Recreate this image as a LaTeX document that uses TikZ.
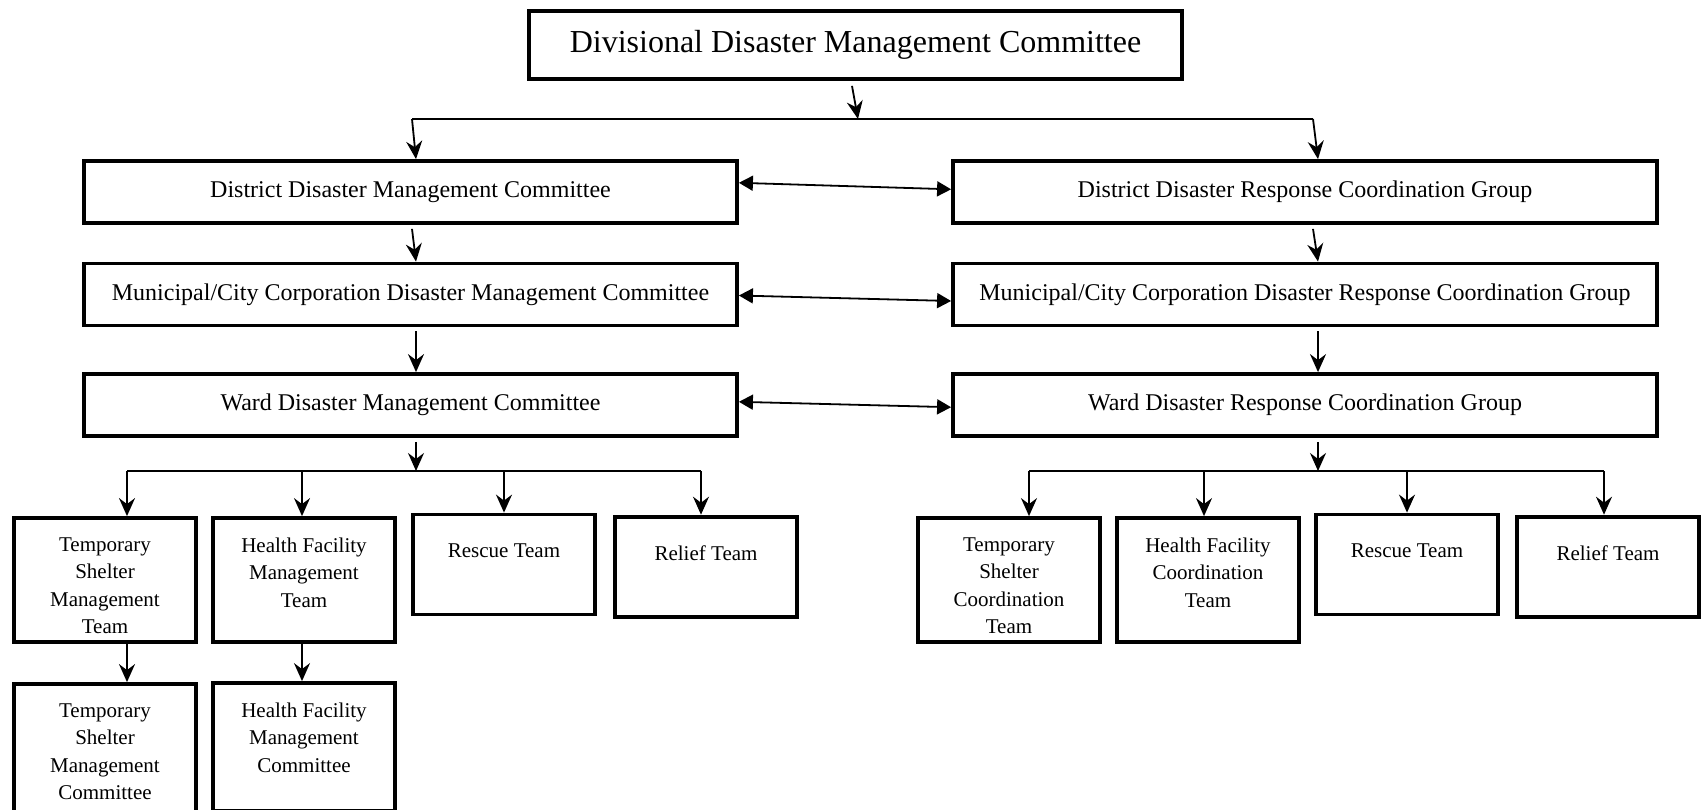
\documentclass[tikz,border=0pt]{standalone}
\usepackage{fontspec}
\setmainfont{Liberation Serif}
\usetikzlibrary{arrows.meta, positioning}

\begin{document}
\begin{tikzpicture}[
  x=0.5pt, y=-0.5pt,
  orgbox/.style={draw, line width=1.9pt, inner sep=0pt},
  headbox/.style={orgbox, minimum width=326.5pt, minimum height=34pt,
    font=\fontsize{16}{19}\selectfont},
  levelbox/.style={orgbox, minimum height=31pt, font=\fontsize{12}{14}\selectfont},
  teambox/.style={orgbox, minimum width=91pt},
  teamtext/.style={anchor=north, align=center, inner sep=0pt,
    font=\fontsize{10.5}{13.75}\selectfont},
  link/.style={line width=0.9pt},
  down/.style={link, -{Stealth[length=9pt, width=8pt, inset=3pt]}},
  both/.style={link, {Triangle[length=7pt, width=7.5pt]}-{Triangle[length=7pt, width=7.5pt]}},
]
  \path[use as bounding box, clip] (0,0) rectangle (1702,809);

  % Division level
  \node[headbox] (div) at (855.5,45) {Divisional Disaster Management Committee};

  % Committees (left) and coordination groups (right)
  \node[levelbox, minimum width=326.5pt] (ddmc)  at (410.5,192)   {District Disaster Management Committee};
  \node[levelbox, minimum width=352pt]   (ddrcg) at (1305,192)    {District Disaster Response Coordination Group};
  \node[levelbox, minimum width=326.5pt] (mdmc)  at (410.5,294.5) {Municipal/City Corporation Disaster Management Committee};
  \node[levelbox, minimum width=352pt]   (mdrcg) at (1305,294.5)  {Municipal/City Corporation Disaster Response Coordination Group};
  \node[levelbox, minimum width=326.5pt] (wdmc)  at (410.5,405)   {Ward Disaster Management Committee};
  \node[levelbox, minimum width=352pt]   (wdrcg) at (1305,405)    {Ward Disaster Response Coordination Group};

  % Teams under the ward committee
  \node[teambox, minimum height=62pt] (lts)  at (105,580)   {};
  \node[teambox, minimum height=62pt] (lhf)  at (304,580)   {};
  \node[teambox, minimum height=50pt] (lrs)  at (504,564.5) {};
  \node[teambox, minimum height=50pt] (lrl)  at (706,566.6) {};
  \node[teambox, minimum height=64pt] (ltsc) at (105,748)   {};
  \node[teambox, minimum height=64pt] (lhfc) at (304,747)   {};
  \node[teamtext, below=10.5pt of lts.north]  (ltst)  {Temporary\\Shelter\\Management\\Team};
  \node[teamtext, below=10.5pt of lhf.north]  (lhft)  {Health Facility\\Management\\Team};
  \node[teamtext, below=15.5pt of lrs.north]  (lrst)  {Rescue Team};
  \node[teamtext, below=15.5pt of lrl.north]  (lrlt)  {Relief Team};
  \node[teamtext, below=10.5pt of ltsc.north] (ltsct) {Temporary\\Shelter\\Management\\Committee};
  \node[teamtext, below=10.5pt of lhfc.north] (lhfct) {Health Facility\\Management\\Committee};

  % Teams under the ward coordination group
  \node[teambox, minimum height=62pt] (rts) at (1009,580)   {};
  \node[teambox, minimum height=62pt] (rhf) at (1208,580)   {};
  \node[teambox, minimum height=50pt] (rrs) at (1407,564.5) {};
  \node[teambox, minimum height=50pt] (rrl) at (1608,566.6) {};
  \node[teamtext, below=10.5pt of rts.north]  (rtst) {Temporary\\Shelter\\Coordination\\Team};
  \node[teamtext, below=10.5pt of rhf.north]  (rhft) {Health Facility\\Coordination\\Team};
  \node[teamtext, below=15.5pt of rrs.north]  (rrst) {Rescue Team};
  \node[teamtext, below=15.5pt of rrl.north]  (rrlt) {Relief Team};

  % Fan-out from the division
  \coordinate (fanL) at (412,119);
  \coordinate (fanM) at (858,119);
  \coordinate (fanR) at (1313,119);
  \draw[down] ([xshift=-1.75pt, yshift=-2.5pt]div.south) -- (fanM);
  \draw[link] (fanL) -- (fanR);
  \draw[down] (fanL) -- ([xshift=2.75pt]ddmc.north);
  \draw[down] (fanR) -- ([xshift=6.5pt]ddrcg.north);

  % Down the two columns
  \draw[down] ([xshift=0.75pt, yshift=-2pt]ddmc.south)  -- ([xshift=2.75pt]mdmc.north);
  \draw[down] ([xshift=4pt, yshift=-2pt]ddrcg.south)    -- ([xshift=6.5pt]mdrcg.north);
  \draw[down] ([xshift=2.75pt, yshift=-2pt]mdmc.south)  -- ([xshift=2.75pt]wdmc.north);
  \draw[down] ([xshift=6.5pt, yshift=-2pt]mdrcg.south)  -- ([xshift=6.5pt]wdrcg.north);

  % Links between committee and group
  \draw[both] ([yshift=4.6pt]ddmc.east)  -- ([yshift=1.35pt]ddrcg.west);
  \draw[both] ([yshift=-0.5pt]mdmc.east) -- ([yshift=-3.25pt]mdrcg.west);
  \draw[both] ([yshift=1.6pt]wdmc.east)  -- ([yshift=-1.1pt]wdrcg.west);

  % Left split to teams
  \coordinate (splitL) at (416,471);
  \coordinate (bl1) at (127,471);
  \coordinate (bl2) at (302,471);
  \coordinate (bl3) at (504,471);
  \coordinate (bl4) at (701,471);
  \draw[down] ([xshift=2.75pt, yshift=-2pt]wdmc.south) -- (splitL);
  \draw[link] (bl1) -- (bl4);
  \draw[down] (bl1) -- (bl1 |- lts.north);
  \draw[down] (bl2) -- (bl2 |- lhf.north);
  \draw[down] (bl3) -- (bl3 |- lrs.north);
  \draw[down] (bl4) -- (bl4 |- lrl.north);
  \draw[down] (bl1 |- lts.south) -- (bl1 |- ltsc.north);
  \draw[down] (bl2 |- lhf.south) -- (bl2 |- lhfc.north);

  % Right split to teams
  \coordinate (splitR) at (1318,471);
  \coordinate (br1) at (1029,471);
  \coordinate (br2) at (1204,471);
  \coordinate (br3) at (1407,471);
  \coordinate (br4) at (1604,471);
  \draw[down] ([xshift=6.5pt, yshift=-2pt]wdrcg.south) -- (splitR);
  \draw[link] (br1) -- (br4);
  \draw[down] (br1) -- (br1 |- rts.north);
  \draw[down] (br2) -- (br2 |- rhf.north);
  \draw[down] (br3) -- (br3 |- rrs.north);
  \draw[down] (br4) -- (br4 |- rrl.north);
\end{tikzpicture}
\end{document}
